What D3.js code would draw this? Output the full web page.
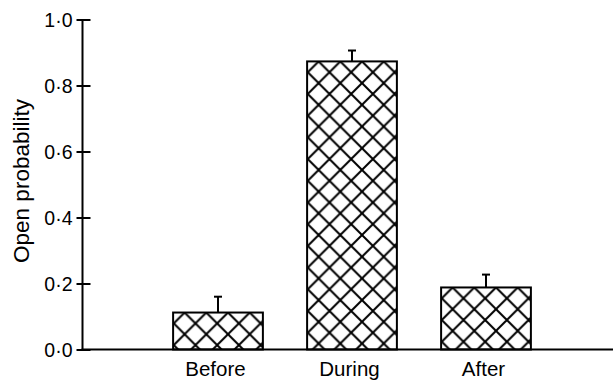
<!DOCTYPE html>
<html>
<head>
<meta charset="utf-8">
<script src="https://cdn.jsdelivr.net/npm/d3@7/dist/d3.min.js"></script>
<style>
  html, body { margin: 0; padding: 0; background: #fff; }
  svg { display: block; }
  text { font-family: "Liberation Sans", Arial, Helvetica, sans-serif; fill: #000; }
</style>
</head>
<body>
<svg id="chart" width="613" height="380"></svg>
<script>
// Open probability before, during and after application (mean + error)
const categories = ["Before", "During", "After"];
const means = [0.112, 0.873, 0.188];
const errors = [0.048, 0.033, 0.039];
const yTicks = [0, 0.2, 0.4, 0.6, 0.8, 1.0];
const yTickLabels = ["0·0", "0·2", "0·4", "0·6", "0·8", "1·0"];

const svg = d3.select("#chart");
const axisLeft = 82.5, axisBottom = 349.5;

const y = d3.scaleLinear().domain([0, 1]).range([axisBottom, 19.5]);
const x = d3.scaleBand().domain(categories)
  .range([151, 553]).paddingInner(0.33).paddingOuter(0.165);

// cross-hatch fill, one pattern per bar so the lattice lines up with each bar
const defs = svg.append("defs");
const P = 21.7;
categories.forEach((c, i) => {
  const pat = defs.append("pattern")
    .attr("id", "hatch" + i)
    .attr("patternUnits", "userSpaceOnUse")
    .attr("width", P).attr("height", P)
    .attr("x", x(c) + 11.5).attr("y", y(means[i]));
  pat.append("rect").attr("width", P).attr("height", P).attr("fill", "#fff");
  pat.append("path")
    .attr("d", `M${-P/2},${-P/2}L${P*1.5},${P*1.5}M${P*1.5},${-P/2}L${-P/2},${P*1.5}`)
    .attr("stroke", "#000").attr("stroke-width", 2).attr("fill", "none");
});

// bars
svg.append("g").selectAll("rect").data(categories).join("rect")
  .attr("x", d => x(d))
  .attr("y", (d, i) => y(means[i]))
  .attr("width", x.bandwidth())
  .attr("height", (d, i) => axisBottom - y(means[i]))
  .attr("fill", (d, i) => `url(#hatch${i})`)
  .attr("stroke", "#000").attr("stroke-width", 2);

// error bars (upper only)
const eb = svg.append("g").attr("stroke", "#000").attr("stroke-width", 2);
categories.forEach((c, i) => {
  const cx = x(c) + x.bandwidth() / 2;
  eb.append("line").attr("x1", cx).attr("x2", cx)
    .attr("y1", y(means[i])).attr("y2", y(means[i] + errors[i]));
  eb.append("line").attr("x1", cx - 4).attr("x2", cx + 4)
    .attr("y1", y(means[i] + errors[i])).attr("y2", y(means[i] + errors[i]));
});

// y axis with ticks crossing the line
const yAxis = svg.append("g").attr("transform", `translate(${axisLeft},0)`)
  .call(d3.axisLeft(y).tickValues(yTicks)
    .tickFormat((d, i) => yTickLabels[i]).tickSize(6).tickPadding(4).tickSizeOuter(0));
yAxis.select(".domain").attr("stroke", "#000").attr("stroke-width", 2)
  .attr("d", `M0,${y(1) - 0.5}V${axisBottom + 1}`);
yAxis.selectAll(".tick line").attr("stroke", "#000").attr("stroke-width", 2)
  .attr("x1", 8);
yAxis.selectAll(".tick text").attr("font-size", 19.5).attr("dy", "0.36em");

// x axis baseline across the plot
svg.append("line").attr("x1", axisLeft - 1).attr("x2", 613)
  .attr("y1", axisBottom).attr("y2", axisBottom)
  .attr("stroke", "#000").attr("stroke-width", 2);

// category labels
svg.append("g").selectAll("text").data(categories).join("text")
  .attr("x", d => x(d) + x.bandwidth() / 2 - 2.5)
  .attr("y", 375.5)
  .attr("text-anchor", "middle")
  .attr("font-size", 20.5)
  .text(d => d);

// y axis title
svg.append("text")
  .attr("transform", "translate(28.5,181) rotate(-90)")
  .attr("text-anchor", "middle")
  .attr("font-size", 22.5)
  .text("Open probability");
</script>
</body>
</html>
